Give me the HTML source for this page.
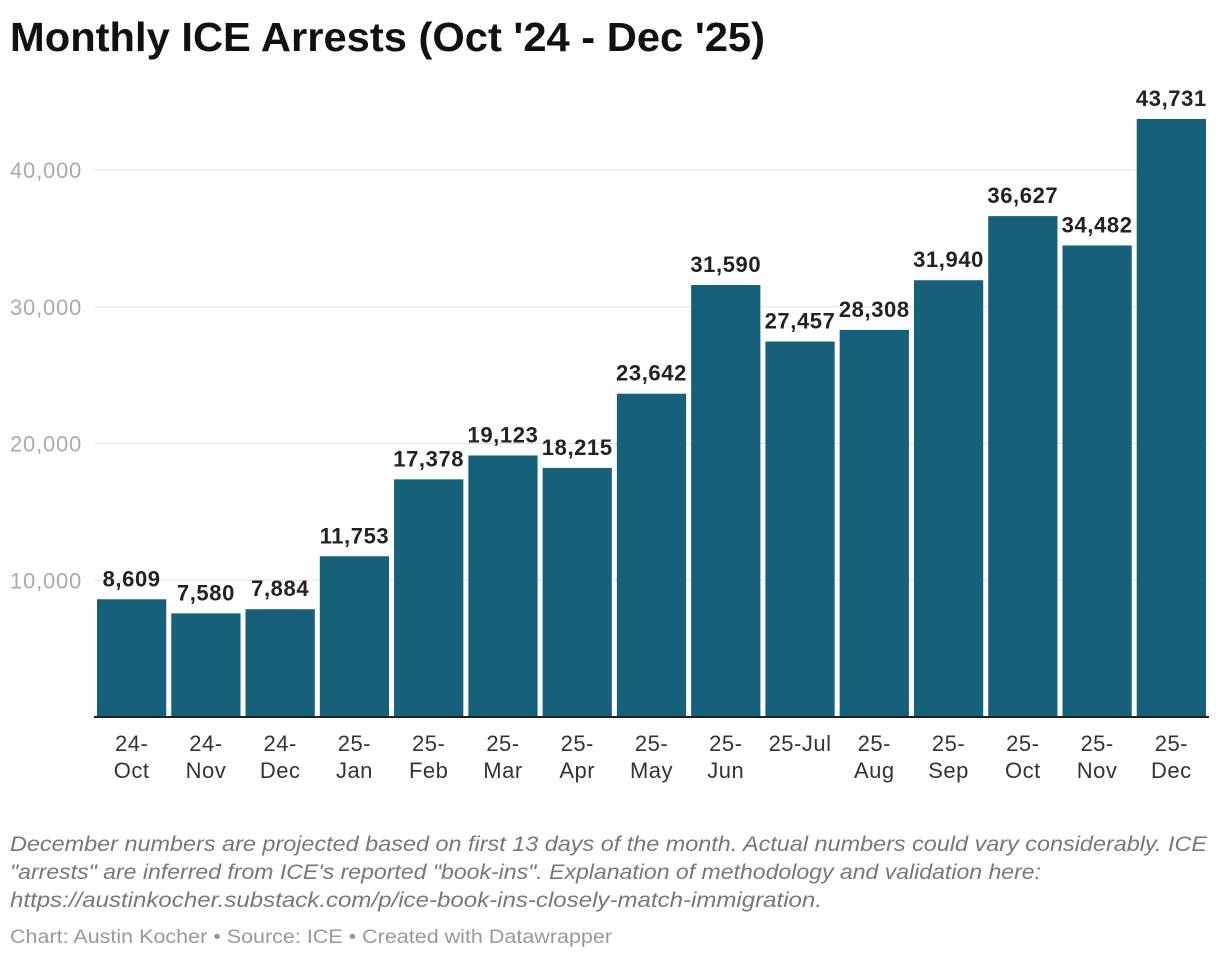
<!DOCTYPE html>
<html><head><meta charset="utf-8">
<style>
body{margin:0;width:1220px;height:960px;background:#fff;font-family:"Liberation Sans",Arial,sans-serif;overflow:hidden}
</style></head>
<body>
<svg width="1220" height="960" xmlns="http://www.w3.org/2000/svg">
<text x="10" y="51" font-size="41" font-weight="bold" fill="#111" textLength="755" lengthAdjust="spacingAndGlyphs">Monthly ICE Arrests (Oct '24 - Dec '25)</text>
<g id="grid"></g>
<g id="bars"></g>
<g id="xl"></g>
<line x1="94" x2="1209" y1="717" y2="717" stroke="#222" stroke-width="2"/>
<g font-size="21" font-style="italic" fill="#777">
<text x="10" y="851" textLength="1197" lengthAdjust="spacingAndGlyphs">December numbers are projected based on first 13 days of the month. Actual numbers could vary considerably. ICE</text>
<text x="10" y="879" textLength="1031" lengthAdjust="spacingAndGlyphs">"arrests" are inferred from ICE's reported "book-ins". Explanation of methodology and validation here:</text>
<text x="10" y="907" textLength="812" lengthAdjust="spacingAndGlyphs">https://austinkocher.substack.com/p/ice-book-ins-closely-match-immigration.</text>
</g>
<text x="10" y="943" font-size="19" fill="#999" textLength="602" lengthAdjust="spacingAndGlyphs">Chart: Austin Kocher • Source: ICE • Created with Datawrapper</text>
</svg>
<script>
const categories=[["24-","Oct"],["24-","Nov"],["24-","Dec"],["25-","Jan"],["25-","Feb"],["25-","Mar"],["25-","Apr"],["25-","May"],["25-","Jun"],["25-Jul"],["25-","Aug"],["25-","Sep"],["25-","Oct"],["25-","Nov"],["25-","Dec"]];
const values=[8609,7580,7884,11753,17378,19123,18215,23642,31590,27457,28308,31940,36627,34482,43731];
const yTicks=[10000,20000,30000,40000];
const NS="http://www.w3.org/2000/svg";
const x0=94.5,x1=1208.5,yBase=717,pxPer=547/40000;
const step=(x1-x0)/categories.length;
const y=v=>yBase-v*pxPer;
const fmt=v=>v.toLocaleString('en-US');
function mk(tag,attrs,parent,text){const e=document.createElementNS(NS,tag);for(const k in attrs)e.setAttribute(k,attrs[k]);if(text!==undefined)e.textContent=text;parent.appendChild(e);return e;}
const grid=document.getElementById('grid'),bars=document.getElementById('bars'),xl=document.getElementById('xl');
yTicks.forEach(t=>{
  const l=mk('line',{x1:x0,x2:x1,y1:y(t),y2:y(t),stroke:'#e0e0e0','stroke-width':1},grid);
  
  
  const tx=mk('text',{x:10,y:y(t)+8,'font-size':22,fill:'#aaa','letter-spacing':'0.8'},grid,fmt(t));
  
  
});
values.forEach((v,i)=>{
  const bx=x0+i*step+2.5,bw=step-5,cx=x0+(i+0.5)*step;
  const r=mk('rect',{x:bx,y:y(v),width:bw,height:yBase-y(v),fill:'#17607a'},bars);
  
  
  const t=mk('text',{x:cx,y:y(v)-13,'font-size':22,'font-weight':'bold',fill:'#222','text-anchor':'middle','letter-spacing':'0.6'},bars,fmt(v));
  
  
  const c=categories[i];
  c.forEach((s,j)=>{
    const lt=mk('text',{x:cx,y:751+j*27,'font-size':22,fill:'#333','text-anchor':'middle','letter-spacing':'0.5'},xl,s);
    
    
  });
});
</script>
</body></html>
